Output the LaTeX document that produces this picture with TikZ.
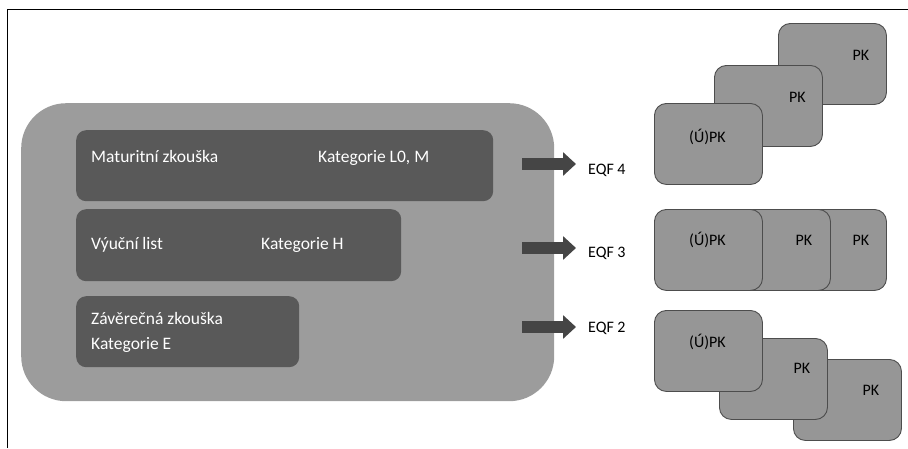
\documentclass[tikz,border=0pt]{standalone}
\usepackage{fontspec}
\setmainfont{Carlito}
\usetikzlibrary{arrows.meta}

\definecolor{outergray}{HTML}{9C9C9C}
\definecolor{levelgray}{HTML}{595959}
\definecolor{arrowgray}{HTML}{454545}
\definecolor{pkgray}{HTML}{969696}
\definecolor{pkborder}{HTML}{4D4D4D}

\tikzset{
  levelbox/.style={fill=levelgray, rounded corners=10pt, anchor=north west, inner sep=0pt},
  leveltext/.style={text=white, anchor=base west, inner sep=0pt, font=\fontsize{17.5}{20}\selectfont},
  pkbox/.style={fill=pkgray, draw=pkborder, line width=0.9pt, rounded corners=12pt, anchor=north west,
    minimum width=108pt, minimum height=81pt, inner sep=0pt},
  pktext/.style={anchor=base, inner sep=0pt, font=\fontsize{16}{19}\selectfont},
  eqftext/.style={anchor=base west, inner sep=0pt, font=\fontsize{16}{19}\selectfont},
  bigarrow/.style={arrowgray, line width=12pt, shorten >=12pt, -{Triangle[width=23pt,length=13pt]}}
}

\begin{document}
\begin{tikzpicture}[x=1pt, y=-1pt]

  \useasboundingbox (0,0) rectangle (908,448);

  % frame
  \draw[line width=1pt] (7,448) -- (7,9) -- (908,9);

  % big box with the three levels
  \node[fill=outergray, rounded corners=45pt, anchor=north west, inner sep=0pt,
    minimum width=533pt, minimum height=298pt] (school) at (21,103) {};

  \node[levelbox, minimum width=417pt, minimum height=71pt] (level4) at (76,130) {};
  \node[leveltext] (mat) at (91,162) {Maturitní zkouška};
  \node[leveltext] (katLM) at (318,162) {Kategorie L0, M};

  \node[levelbox, minimum width=325pt, minimum height=72pt] (level3) at (76,209) {};
  \node[leveltext] (vyu) at (91,249) {Výuční list};
  \node[leveltext] (katH) at (261,249) {Kategorie H};

  \node[levelbox, minimum width=223pt, minimum height=71pt] (level2) at (76,296) {};
  \node[leveltext] (zav) at (91,324) {Závěrečná zkouška};
  \node[leveltext] (katE) at (91,349) {Kategorie E};

  % EQF labels and arrows
  \node[eqftext] (eqf4) at (588,174) {EQF 4};
  \node[eqftext] (eqf3) at (588,257) {EQF 3};
  \node[eqftext] (eqf2) at (588,332) {EQF 2};

  \coordinate (s4) at (522,164);
  \coordinate (s3) at (522,248);
  \coordinate (s2) at (522,327);

  \draw[bigarrow] (s4) -- (s4 -| eqf4.west);
  \draw[bigarrow] (s3) -- (s3 -| eqf3.west);
  \draw[bigarrow] (s2) -- (s2 -| eqf2.west);

  % EQF 4 stack
  \node[pkbox] (pk4b) at (778,23) {};
  \node[pktext] at (861,60) {PK};
  \node[pkbox] (pk4a) at (714,65) {};
  \node[pktext] at (797.5,102) {PK};
  \node[pkbox] (upk4) at (654,103) {};
  \node[pktext] at (707.5,142) {(Ú)PK};

  % EQF 3 stack
  \node[pkbox] (pk3b) at (778,209) {};
  \node[pktext] at (861,245) {PK};
  \node[pkbox] (pk3a) at (722,209) {};
  \node[pktext] at (804,245) {PK};
  \node[pkbox] (upk3) at (654,209) {};
  \node[pktext] at (707.5,245) {(Ú)PK};

  % EQF 2 stack
  \node[pkbox] (pk2b) at (793,359) {};
  \node[pktext] at (871,395) {PK};
  \node[pkbox] (pk2a) at (719,338) {};
  \node[pktext] at (802,373) {PK};
  \node[pkbox] (upk2) at (654,310) {};
  \node[pktext] at (707.5,347) {(Ú)PK};

\end{tikzpicture}
\end{document}
